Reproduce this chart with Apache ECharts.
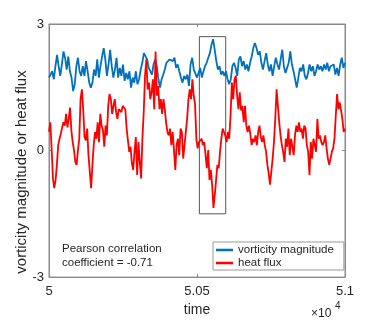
<!DOCTYPE html>
<html>
<head>
<meta charset="utf-8">
<script src="https://cdn.jsdelivr.net/npm/echarts@6/dist/echarts.min.js"></script>
<style>
  html, body { margin: 0; padding: 0; background: #fff; }
  #chart { width: 382px; height: 322px; }
</style>
</head>
<body>
<div id="chart"></div>
<script>
  // time runs from 5e4 to 5.1e4, samples evenly spaced
  const tStart = 50000;
  const tEnd = 51000;
  const yTicks = [-3, 0, 3];

  const vorticity = [
    1.73, 1.69, 1.88, 1.69, 2.00, 2.27, 2.00, 1.77, 2.04, 2.35, 2.20, 1.92, 2.23, 1.88, 1.73, 1.41,
    1.57, 2.00, 2.20, 1.88, 1.77, 2.00, 1.77, 2.12, 1.88, 1.61, 1.49, 1.61, 1.92, 1.77, 2.16, 1.73,
    2.00, 2.23, 2.43, 2.16, 1.77, 2.04, 2.39, 2.00, 1.73, 1.92, 2.20, 1.73, 1.96, 1.77, 2.04, 1.65,
    1.84, 1.69, 1.88, 1.49, 1.73, 1.61, 1.88, 1.57, 1.69, 1.92, 2.08, 2.31, 2.35, 2.16, 1.96, 2.00,
    1.80, 2.04, 2.16, 2.00, 1.69, 1.49, 1.69, 1.80, 1.92, 2.08, 2.12, 2.16, 2.20, 2.12, 2.20, 1.96,
    2.04, 1.88, 1.73, 1.61, 1.77, 1.69, 1.80, 1.53, 2.04, 2.20, 1.92, 1.88, 1.73, 1.77, 1.96, 1.73,
    1.88, 2.00, 2.08, 2.20, 2.31, 2.51, 2.64, 2.39, 2.12, 1.92, 2.00, 1.80, 1.88, 1.77, 1.88, 1.69,
    1.57, 1.69, 2.00, 2.08, 1.96, 1.77, 2.16, 2.23, 2.00, 2.12, 1.92, 2.04, 1.88, 2.08, 2.23, 2.43,
    2.55, 2.43, 2.27, 2.35, 2.08, 1.92, 2.12, 2.31, 2.04, 1.88, 2.04, 1.77, 2.00, 2.20, 2.04, 1.92,
    2.16, 2.39, 2.00, 1.84, 1.96, 2.08, 2.35, 2.04, 1.88, 1.92, 1.49, 1.73, 1.96, 1.88, 2.04, 1.77,
    1.69, 1.84, 2.04, 1.88, 2.00, 1.77, 1.88, 2.04, 1.92, 2.00, 1.88, 2.04, 1.92, 2.08, 1.88, 2.00,
    1.96, 2.04, 1.80, 1.96, 1.77, 2.04, 2.20, 1.96, 2.08
  ];

  const heatFlux = [
    0.44, 0.67, 0.05, -0.66, -0.89, -0.70, -0.34, 0.13, 0.28, 0.40, 0.55, 0.67, 0.59, 0.87, 0.55, 0.75,
    1.02, 0.48, 0.20, 0.01, -0.27, -0.34, 0.01, 0.28, 1.22, 1.45, 0.98, 0.32, 0.24, 0.52, -0.11, -0.50,
    -0.89, -0.34, 0.13, 0.44, 0.28, 0.67, 0.20, 0.87, 0.59, 0.48, 0.09, 0.59, 0.36, 1.06, 1.34, 1.22,
    0.87, 1.06, 1.22, 0.91, 0.75, 0.98, 0.98, 0.91, 1.06, 1.02, 0.98, 0.52, 0.24, -0.03, 0.09, -0.30,
    -0.46, -0.03, 0.32, -0.58, 0.20, -0.27, -0.66, 0.28, 0.91, 1.77, 2.16, 1.45, 1.61, 1.22, 1.38, 1.69,
    0.98, 2.35, 1.30, 1.53, 0.98, 1.22, 0.87, 1.22, 0.98, 0.67, 0.44, 0.36, 0.52, 0.13, 0.44, 0.01,
    -0.46, 0.13, 0.28, -0.11, 0.52, 0.44, -0.19, 0.13, 0.13, 0.75, 1.22, 1.45, 1.22, 1.69, 1.30, 1.10,
    0.28, 0.05, 0.20, 0.20, 0.28, 0.13, 0.20, -0.11, -0.42, 0.01, -0.70, -0.46, -0.81, -1.36, -1.05, -0.70,
    -0.34, -0.42, -0.03, 0.28, 0.52, 0.44, 0.36, 0.20, 0.44, 0.28, 0.83, 1.61, 1.22, 1.69, 1.77, 1.30,
    0.98, 1.38, 0.95, 1.06, 0.67, 1.06, 0.59, 0.44, 0.59, 0.40, 0.13, 0.28, 0.20, 0.36, 0.13, 0.44,
    0.59, 0.32, 0.20, 0.36, 0.13, -0.03, -0.34, -0.54, -0.81, -0.50, -0.19, 0.20, 0.75, 1.45, 1.06, 0.67,
    0.36, 0.13, -0.03, -0.27, 0.28, 0.09, 0.52, -0.11, 0.28, 0.09, -0.11, 0.36, 0.59, 0.44, 0.67, 0.44,
    0.52, 0.28, 0.59, 0.52, 0.13, -0.03, -0.58, 0.20, -0.19, 0.28, 0.13, -0.03, 0.75, 0.28, 0.36, 0.20,
    0.13, 0.20, 0.36, 0.05, -0.19, -0.34, -0.19, -0.03, 0.05, 0.28, 0.83, 1.34, 0.98, 1.14, 0.95, 0.75,
    0.44, 0.52
  ];

  // highlighted window [t0, t1] x [yTop, yBottom]
  const boxTime = [50508, 50597];
  const boxValue = [2.7, -1.5];

  const pearsonText = 'Pearson correlation\ncoefficient = -0.71';
  const yLabel = 'vorticity magnitude or heat flux';

  function toPairs(vals) {
    const step = (tEnd - tStart) / (vals.length - 1);
    return vals.map((v, i) => [tStart + i * step, v]);
  }

  const axisGray = '#8a8a8a';
  const textGray = '#262626';
  const font = '"Liberation Sans", Arial, sans-serif';
  const lineIcon = 'path://M0,0L1,0L1,0.15L0,0.15Z';

  const chart = echarts.init(document.getElementById('chart'));

  const tickAxis = {
    axisLine: { show: true, onZero: false, lineStyle: { color: axisGray } },
    axisTick: { inside: true, length: 3, lineStyle: { color: axisGray } },
    splitLine: { show: false }
  };

  const option = {
    animation: false,
    textStyle: { fontFamily: font },
    grid: {
      left: 49, right: 37, top: 24, bottom: 42,
      show: true, borderColor: axisGray, borderWidth: 1
    },
    legend: {
      left: 213, top: 242,
      orient: 'vertical',
      itemGap: 1,
      itemWidth: 17, itemHeight: 12,
      padding: [2, 10, 1, 3],
      borderColor: '#999', borderWidth: 1,
      textStyle: { color: textGray, fontSize: 11.5, fontFamily: font },
      data: [
        { name: 'vorticity magnitude', icon: lineIcon },
        { name: 'heat flux', icon: lineIcon }
      ]
    },
    xAxis: [Object.assign({
      type: 'value',
      min: tStart, max: tEnd, interval: 500,
      name: 'time', nameLocation: 'middle', nameGap: 24,
      nameTextStyle: { color: textGray, fontSize: 14, fontFamily: font },
      axisLabel: {
        color: textGray, fontSize: 13, margin: 8,
        formatter: v => String(+(v / 1e4).toFixed(2))
      }
    }, tickAxis), Object.assign({
      type: 'value', position: 'top',
      min: tStart, max: tEnd, interval: 500,
      axisLabel: { show: false }
    }, tickAxis)],
    yAxis: [Object.assign({
      type: 'value',
      min: yTicks[0], max: yTicks[2], interval: 3,
      axisLabel: { color: textGray, fontSize: 13, margin: 5 }
    }, tickAxis), Object.assign({
      type: 'value', position: 'right',
      min: yTicks[0], max: yTicks[2], interval: 3,
      axisLabel: { show: false }
    }, tickAxis)],
    series: [{
      name: 'vorticity magnitude',
      type: 'line',
      data: toPairs(vorticity),
      showSymbol: false, symbol: 'none',
      color: '#0072BD',
      lineStyle: { width: 1.8, color: '#0072BD' },
      z: 3
    }, {
      name: 'heat flux',
      type: 'line',
      data: toPairs(heatFlux),
      showSymbol: false, symbol: 'none',
      color: '#FF0000',
      lineStyle: { width: 1.8, color: '#FF0000' },
      z: 4,
      markArea: {
        silent: true,
        itemStyle: { color: 'rgba(0,0,0,0)', borderColor: '#555', borderWidth: 1 },
        data: [[
          { xAxis: boxTime[0], yAxis: boxValue[0] },
          { xAxis: boxTime[1], yAxis: boxValue[1] }
        ]]
      }
    }],
    graphic: [{
      type: 'text', left: 62, top: 242,
      style: { text: pearsonText, fill: textGray, font: '11.5px ' + font, lineHeight: 14 }
    }, {
      type: 'text', x: 22, y: 172, rotation: Math.PI / 2,
      style: {
        text: yLabel, fill: textGray, font: '15px ' + font,
        align: 'center', verticalAlign: 'middle'
      }
    }, {
      type: 'text', x: 311, y: 308,
      style: { text: '×10', fill: textGray, font: '12px ' + font, verticalAlign: 'top' }
    }, {
      type: 'text', x: 335, y: 301,
      style: { text: '4', fill: textGray, font: '10px ' + font, verticalAlign: 'top' }
    }]
  };

  chart.setOption(option);
</script>
</body>
</html>
